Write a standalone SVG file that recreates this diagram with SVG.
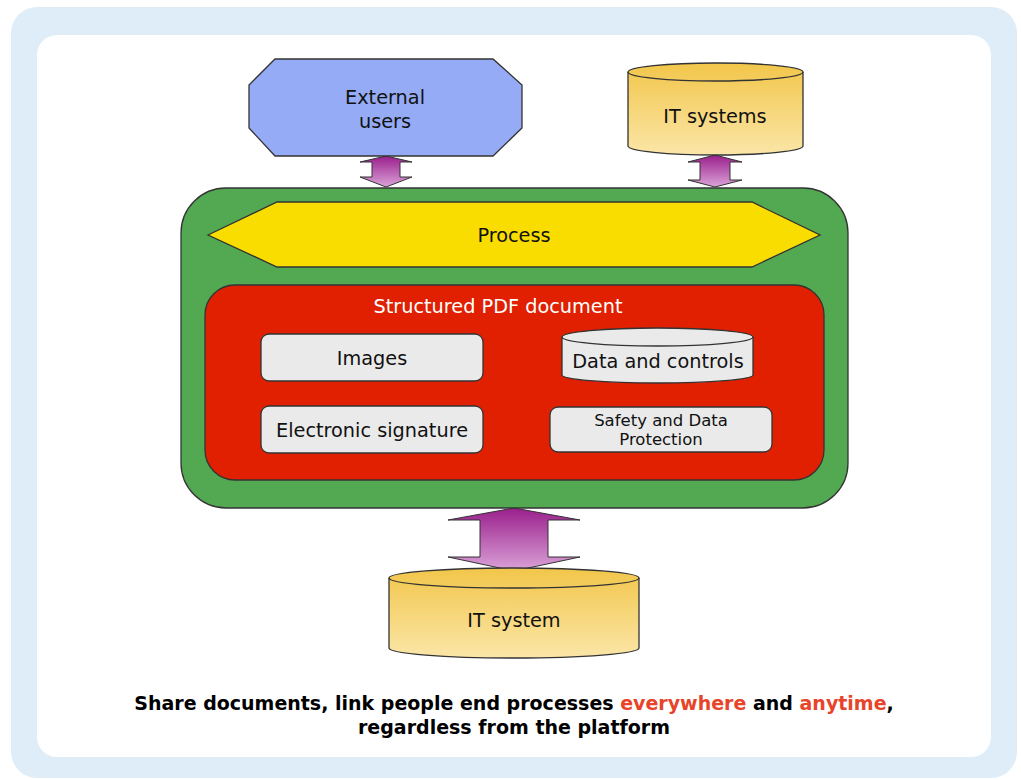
<svg xmlns="http://www.w3.org/2000/svg" width="1021" height="780" viewBox="0 0 1021 780">
<defs>
<linearGradient id="gold" x1="0" y1="0" x2="0" y2="1">
<stop offset="0" stop-color="#f2c64a"/>
<stop offset="1" stop-color="#fbe6a8"/>
</linearGradient>
<linearGradient id="purple" x1="0" y1="0" x2="0" y2="1">
<stop offset="0" stop-color="#9a1f8c"/>
<stop offset="1" stop-color="#dba3d8"/>
</linearGradient>
<style>
.t{font-family:"DejaVu Sans","Verdana",sans-serif;fill:#111;text-anchor:middle;font-size:19.3px}
.s{stroke:#333;stroke-width:1.3}
.box{fill:#eaeaea;stroke:#333;stroke-width:1.3}
.arr{fill:url(#purple);stroke:#333;stroke-width:1}
.b{font-family:"DejaVu Sans","Verdana",sans-serif;font-weight:bold;fill:#000;text-anchor:middle;font-size:19px}
.r{fill:#e8442a}
</style>
</defs>
<rect x="11" y="7" width="1006" height="771" rx="26" fill="#deedf7"/>
<rect x="37" y="35" width="954" height="722" rx="20" fill="#ffffff"/>

<g id="connectors">
<path class="arr" d="M386,156 L412,162 L400,162 L400,177 L412,177 L386,187 L360,177 L372,177 L372,162 L360,162 Z"/>
<path class="arr" d="M715,155 L742,162 L730,162 L730,180 L742,180 L715,187 L688,180 L700,180 L700,162 L688,162 Z"/>
<path class="arr" d="M514,508 L580,520 L548,520 L548,557 L580,557 L514,571 L448,557 L480,557 L480,520 L448,520 Z"/>
</g>

<g id="external-users">
<polygon class="s" fill="#95abf5" points="275,59 493,59 522,85 522,128 493,156 275,156 249,128 249,85"/>
<text class="t" x="385" y="104">External</text>
<text class="t" x="385" y="128">users</text>
</g>

<g id="it-systems">
<path class="s" fill="url(#gold)" d="M628,72 A87.5,9 0 0 1 803,72 L803,146 A87.5,9 0 0 1 628,146 Z"/>
<path class="s" fill="none" d="M628,72 A87.5,9 0 0 0 803,72"/>
<text class="t" x="715" y="123">IT systems</text>
</g>

<g id="platform">
<rect class="s" x="181" y="188" width="667" height="320" rx="45" fill="#53a852"/>
</g>

<g id="process">
<polygon class="s" fill="#f9dd00" points="208,235 277,202 752,202 820,235 752,267 277,267"/>
<text class="t" x="514" y="242">Process</text>
</g>

<g id="structured-pdf">
<rect class="s" x="205" y="285" width="619" height="195" rx="30" fill="#e02000"/>
<text class="t" x="498" y="313" style="fill:#fff">Structured PDF document</text>
</g>

<g id="images">
<rect class="box" x="261" y="334" width="222" height="47" rx="8"/>
<text class="t" x="372" y="365">Images</text>
</g>

<g id="electronic-signature">
<rect class="box" x="261" y="406" width="222" height="47" rx="8"/>
<text class="t" x="372" y="437">Electronic signature</text>
</g>

<g id="data-and-controls">
<path class="box" d="M562,337 A95.5,9 0 0 1 753,337 L753,375 A95.5,8 0 0 1 562,375 Z"/>
<path fill="none" stroke="#333" stroke-width="1.3" d="M562,337 A95.5,9 0 0 0 753,337"/>
<text class="t" x="658" y="368">Data and controls</text>
</g>

<g id="safety">
<rect class="box" x="550" y="407" width="222" height="45" rx="8"/>
<text class="t" x="661" y="426" style="font-size:16.5px">Safety and Data</text>
<text class="t" x="661" y="445" style="font-size:16.5px">Protection</text>
</g>

<g id="it-system">
<path class="s" fill="url(#gold)" d="M389,578 A125,10 0 0 1 639,578 L639,648 A125,10 0 0 1 389,648 Z"/>
<path class="s" fill="none" d="M389,578 A125,10 0 0 0 639,578"/>
<text class="t" x="514" y="627">IT system</text>
</g>

<g id="caption">
<text class="b" x="514" y="710">Share documents, link people end processes <tspan class="r">everywhere</tspan> and <tspan class="r">anytime</tspan>,</text>
<text class="b" x="514" y="734">regardless from the platform</text>
</g>
</svg>
